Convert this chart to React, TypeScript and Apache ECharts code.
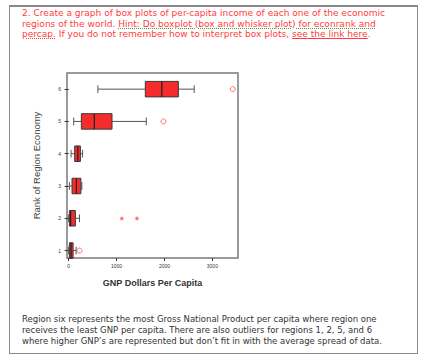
import React, { useEffect, useRef } from "react";
import * as echarts from "echarts";

const regions = [1, 2, 3, 4, 5, 6];
// [low whisker, Q1, median, Q3, high whisker]
const boxStats = [
  [0, 15, 50, 92, 155],
  [0, 15, 40, 140, 225],
  [15, 70, 160, 255, 275],
  [50, 125, 190, 245, 290],
  [105, 265, 535, 905, 1620],
  [610, 1600, 1945, 2290, 2620],
];
// outliers: [gnp, region]
const circleOutliers = [
  [225, 1],
  [1980, 5],
  [3425, 6],
];
const starOutliers = [
  [1110, 2],
  [1425, 2],
];
const xTicks = [0, 1000, 2000, 3000];

export default function App() {
  const ref = useRef<HTMLDivElement>(null);
  useEffect(() => {
    if (!ref.current) return;
    const chart = echarts.init(ref.current, null, { renderer: "svg" });
    const boxData = regions.map((r, i) => [r, ...boxStats[i]]);
    chart.setOption({
      animation: false,
      grid: {
        left: 67,
        right: 184,
        top: 73,
        bottom: 102,
        show: true,
        borderColor: "#7a7a7a",
        borderWidth: 1.5,
        backgroundColor: "#fff",
      },
      xAxis: {
        type: "value",
        min: -35,
        max: 3535,
        name: "GNP Dollars Per Capita",
        nameLocation: "middle",
        nameGap: 20,
        nameTextStyle: {
          fontFamily: "Liberation Sans",
          fontWeight: "bold",
          fontSize: 9,
          color: "#333",
        },
        axisLine: { show: false },
        splitLine: { show: false },
        axisTick: {
          show: true,
          length: 3,
          customValues: xTicks,
          lineStyle: { color: "#333" },
        },
        axisLabel: {
          customValues: xTicks,
          formatter: (v: number) => String(v),
          fontSize: 5,
          color: "#333",
          margin: 5,
          fontFamily: "Liberation Sans",
        },
      },
      yAxis: {
        type: "value",
        min: 0.77,
        max: 6.5,
        name: "Rank of Region Economy",
        nameLocation: "middle",
        nameGap: 26,
        nameTextStyle: {
          fontFamily: "Liberation Sans",
          fontSize: 9.5,
          color: "#444",
        },
        axisLine: { show: false },
        splitLine: { show: false },
        axisTick: {
          show: true,
          length: 4,
          customValues: regions,
          lineStyle: { color: "#333" },
        },
        axisLabel: {
          customValues: regions,
          formatter: (v: number) => String(v),
          fontSize: 5,
          color: "#333",
          margin: 6,
          fontFamily: "Liberation Sans",
        },
      },
      series: [
        {
          type: "custom",
          data: boxData,
          encode: { x: [1, 2, 3, 4, 5], y: 0 },
          renderItem: (params: any, api: any) => {
            const y = api.value(0);
            const pLow = api.coord([api.value(1), y]);
            const pQ1 = api.coord([api.value(2), y]);
            const pMed = api.coord([api.value(3), y]);
            const pQ3 = api.coord([api.value(4), y]);
            const pHigh = api.coord([api.value(5), y]);
            const h = api.size([0, 1])[1] * 0.48;
            const cy = pLow[1];
            const cap = h / 2;
            const wStyle = { stroke: "#555", lineWidth: 1 };
            return {
              type: "group",
              children: [
                { type: "line", shape: { x1: pLow[0], y1: cy, x2: pQ1[0], y2: cy }, style: wStyle },
                { type: "line", shape: { x1: pQ3[0], y1: cy, x2: pHigh[0], y2: cy }, style: wStyle },
                { type: "line", shape: { x1: pLow[0], y1: cy - cap / 2, x2: pLow[0], y2: cy + cap / 2 }, style: wStyle },
                { type: "line", shape: { x1: pHigh[0], y1: cy - cap / 2, x2: pHigh[0], y2: cy + cap / 2 }, style: wStyle },
                {
                  type: "rect",
                  shape: { x: pQ1[0], y: cy - h / 2, width: pQ3[0] - pQ1[0], height: h },
                  style: { fill: "#f42c2c", stroke: "#3a3a3a", lineWidth: 1 },
                },
                {
                  type: "line",
                  shape: { x1: pMed[0], y1: cy - h / 2, x2: pMed[0], y2: cy + h / 2 },
                  style: { stroke: "#222", lineWidth: 1.2 },
                },
              ],
            };
          },
        },
        {
          type: "scatter",
          data: circleOutliers,
          symbol: "circle",
          symbolSize: 5,
          itemStyle: { color: "#fff", borderColor: "#ff5050", borderWidth: 1 },
        },
        {
          type: "scatter",
          data: starOutliers,
          symbol:
            "path://M5 0 L6.2 3.3 L9.8 3.4 L7 5.6 L8 9 L5 7 L2 9 L3 5.6 L0.2 3.4 L3.8 3.3 Z",
          symbolSize: 5,
          itemStyle: { color: "#ff4545" },
        },
      ],
    });
    return () => chart.dispose();
  }, []);

  const red = "#ff3c3c";
  const topStyle: React.CSSProperties = {
    position: "absolute",
    left: 22,
    top: 8,
    fontFamily: "DejaVu Sans",
    fontSize: 9.05,
    lineHeight: "10.5px",
    color: red,
    whiteSpace: "nowrap",
    zIndex: 2,
  };
  const bottomStyle: React.CSSProperties = {
    position: "absolute",
    left: 22,
    top: 313.5,
    fontFamily: "DejaVu Sans",
    fontSize: 8.5,
    lineHeight: "11px",
    color: "#333",
    whiteSpace: "nowrap",
    zIndex: 2,
  };
  const greenU: React.CSSProperties = {
    textDecoration: "underline dotted #3aa04a",
  };
  const redU: React.CSSProperties = {
    textDecoration: "underline",
    textDecorationColor: red,
  };

  return (
    <div
      style={{
        position: "fixed",
        left: 0,
        top: 0,
        width: 422,
        height: 360,
        background: "#fff",
        overflow: "hidden",
      }}
    >
      <div ref={ref} style={{ position: "absolute", left: 0, top: 0, width: 422, height: 360 }} />
      <div
        style={{
          position: "absolute",
          left: 9,
          top: 5,
          width: 407,
          height: 346,
          borderTop: "2px solid #8a8a8a",
          borderLeft: "1px solid #8a8a8a",
          borderRight: "1px solid #8a8a8a",
          borderBottom: "1px solid #8a8a8a",
          zIndex: 1,
          pointerEvents: "none",
        }}
      />
      <div style={topStyle}>
        <div>2. Create a graph of box plots of per-capita income of each one of the economic</div>
        <div>
          regions of the world.{" "}
          <span style={greenU}>Hint: Do boxplot (box and whisker plot) for econrank and</span>
        </div>
        <div>
          <span style={{ textDecoration: "underline dotted #ff3c3c" }}>percap.</span> If you do not
          remember how to interpret box plots, <span style={redU}>see the link here</span>.
        </div>
      </div>
      <div style={bottomStyle}>
        <div>Region six represents the most Gross National Product per capita where region one</div>
        <div>receives the least GNP per capita. There are also outliers for regions 1, 2, 5, and 6</div>
        <div>where higher GNP’s are represented but don’t fit in with the average spread of data.</div>
      </div>
    </div>
  );
}
